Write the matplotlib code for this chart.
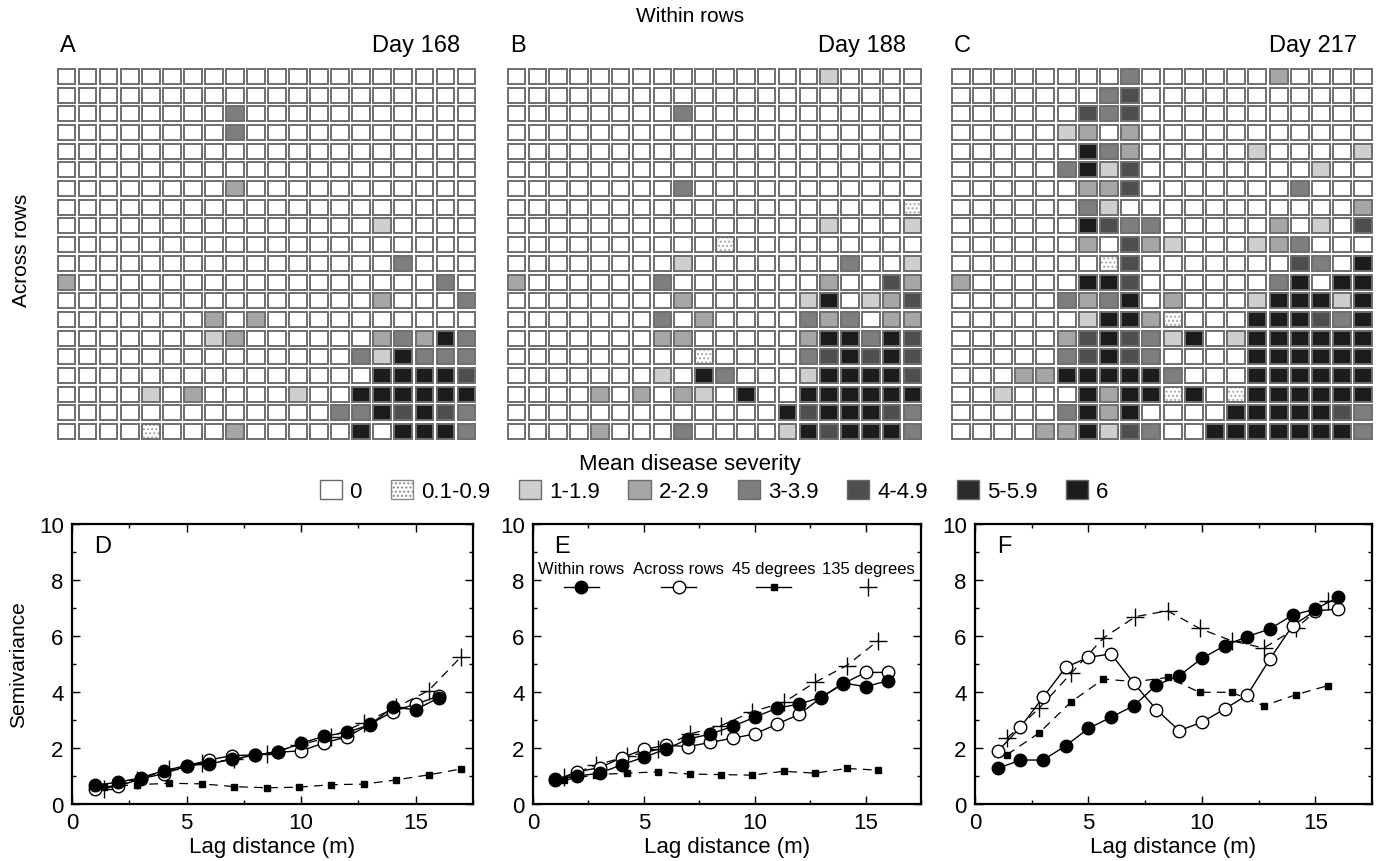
import numpy as np
import matplotlib
matplotlib.use('Agg')
import matplotlib.pyplot as plt
from matplotlib.patches import Rectangle, Patch
from matplotlib.lines import Line2D
from matplotlib.ticker import MultipleLocator

plt.rcParams['font.family'] = ['Liberation Sans', 'DejaVu Sans']

# severity class per cell: 0=0, 1=0.1-0.9, 2=1-1.9, 3=2-2.9, 4=3-3.9, 5=4-4.9, 6=5-5.9, 7=6
grid_day168 = [
    "00000000000000000000",
    "00000000000000000000",
    "00000000400000000000",
    "00000000400000000000",
    "00000000000000000000",
    "00000000000000000000",
    "00000000300000000000",
    "00000000000000000000",
    "00000000000000020000",
    "00000000000000000000",
    "00000000000000004000",
    "30000000000000000040",
    "00000000000000030004",
    "00000003030000000000",
    "00000002300000034374",
    "00000000000000427444",
    "00000000000000077775",
    "00002030000200777777",
    "00000000000004475754",
    "00001000300000707774",
]
grid_day188 = [
    "00000000000000020000",
    "00000000000000000000",
    "00000000400000000000",
    "00000000000000000000",
    "00000000000000000000",
    "00000000000000000000",
    "00000000400000000000",
    "00000000000000000001",
    "00000000000000020002",
    "00000000001000000000",
    "00000000200000004002",
    "30000004000000030053",
    "00000000300000270235",
    "00000004030000434033",
    "00000003300000377475",
    "00000000010000457575",
    "00000002074000277775",
    "00003030320700777777",
    "00000000000007577754",
    "00003000400002757774",
]
grid_day217 = [
    "00000000400000030000",
    "00000004500000000000",
    "00000054500000000000",
    "00000230300000000000",
    "00000074300000200002",
    "00000472500000000200",
    "00000033500000004000",
    "00000042000000000003",
    "00000075440000030205",
    "00000030532000234000",
    "00000001500000005407",
    "30000077500000047077",
    "00000434703000277727",
    "00000027731000777547",
    "00000357542702777777",
    "00000457540000777777",
    "00033777774000777777",
    "00200073771701777777",
    "00000473700007777754",
    "00003372540077777774",
]
grid_days = ["Day 168", "Day 188", "Day 217"]
grid_letters = ["A", "B", "C"]

class_labels = ["0", "0.1-0.9", "1-1.9", "2-2.9", "3-3.9", "4-4.9", "5-5.9", "6"]
class_colors = ["#ffffff", "#ffffff", "#cfcfcf", "#a6a6a6", "#7e7e7e",
                "#4e4e4e", "#2a2a2a", "#1c1c1c"]

# semivariograms
lag_rows = [1, 2, 3, 4, 5, 6, 7, 8, 9, 10, 11, 12, 13, 14, 15, 16]
lag_diag = [1.41, 2.83, 4.24, 5.66, 7.07, 8.49, 9.90, 11.31, 12.73, 14.14, 15.56, 16.97]

within_D = [0.68, 0.77, 0.94, 1.19, 1.37, 1.43, 1.60, 1.75, 1.87, 2.17, 2.42, 2.56, 2.83, 3.45, 3.37, 3.79]
across_D = [0.55, 0.63, 0.90, 1.08, 1.35, 1.58, 1.73, 1.75, 1.85, 1.90, 2.18, 2.40, 2.85, 3.30, 3.57, 3.85]
deg45_D = [0.62, 0.69, 0.74, 0.72, 0.62, 0.58, 0.60, 0.69, 0.71, 0.86, 1.04, 1.25]
deg135_D = [0.55, 0.85, 1.25, 1.45, 1.60, 1.80, 2.10, 2.40, 2.90, 3.45, 4.05, 5.25]

within_E = [0.90, 1.00, 1.10, 1.40, 1.67, 1.96, 2.32, 2.50, 2.77, 3.10, 3.42, 3.57, 3.81, 4.32, 4.19, 4.40]
across_E = [0.85, 1.15, 1.30, 1.65, 1.95, 2.10, 2.05, 2.20, 2.35, 2.50, 2.85, 3.20, 3.80, 4.30, 4.70, 4.70]
deg45_E = [0.85, 1.05, 1.10, 1.15, 1.07, 1.05, 1.03, 1.17, 1.10, 1.27, 1.21]
deg135_E = [0.95, 1.39, 1.70, 1.95, 2.50, 2.80, 3.30, 3.63, 4.35, 4.94, 5.83]

within_F = [1.27, 1.57, 1.57, 2.08, 2.70, 3.10, 3.51, 4.25, 4.58, 5.20, 5.65, 5.98, 6.25, 6.75, 6.96, 7.38]
across_F = [1.88, 2.74, 3.81, 4.88, 5.24, 5.36, 4.31, 3.37, 2.62, 2.92, 3.39, 3.89, 5.18, 6.37, 6.90, 6.96]
deg45_F = [1.76, 2.54, 3.65, 4.46, 4.37, 4.52, 3.99, 3.99, 3.51, 3.90, 4.23]
deg135_F = [2.35, 3.42, 4.67, 5.93, 6.69, 6.90, 6.27, 5.83, 5.57, 6.27, 7.26]

series_labels = ["Within rows", "Across rows", "45 degrees", "135 degrees"]
panel_letters = ["D", "E", "F"]

W, H = 1382, 862
fig = plt.figure(figsize=(W / 100, H / 100), dpi=100)


def fr(left, top, width, height):
    # pixel box -> figure fraction
    return [left / W, (H - top - height) / H, width / W, height / H]


def draw_grid(ax, grid):
    nrow = len(grid)
    ncol = len(grid[0])
    for r, row in enumerate(grid):
        for c, ch in enumerate(row):
            k = int(ch)
            x0, y0 = c + 0.08, r + 0.1
            if k == 1:
                ax.add_patch(Rectangle((x0, y0), 0.84, 0.8, facecolor='white',
                                       edgecolor='#a8a8a8', hatch='....', lw=0))
                ax.add_patch(Rectangle((x0, y0), 0.84, 0.8, facecolor='none',
                                       edgecolor='#6e6e6e', lw=1.4))
            else:
                ax.add_patch(Rectangle((x0, y0), 0.84, 0.8, facecolor=class_colors[k],
                                       edgecolor='#6e6e6e', lw=1.4))
    ax.set_xlim(0, ncol)
    ax.set_ylim(nrow, 0)
    ax.set_axis_off()


grid_boxes = [(56, 68, 421, 374), (506, 68, 417, 374), (950, 68, 424, 374)]
for grid, box, day, letter in zip([grid_day168, grid_day188, grid_day217],
                                  grid_boxes, grid_days, grid_letters):
    ax = fig.add_axes(fr(*box))
    draw_grid(ax, grid)
    ax.text(0.01, 1.06, letter, transform=ax.transAxes, fontsize=17, va='center', ha='left')
    ax.text(0.96, 1.06, day, transform=ax.transAxes, fontsize=17, va='center', ha='right')

fig.text(690 / W, 1 - 17 / H, "Within rows", fontsize=15, ha='center', va='center')
fig.text(22 / W, 1 - 250 / H, "Across rows", fontsize=15, ha='center', va='center',
         rotation=90)
fig.text(690 / W, 1 - 465 / H, "Mean disease severity", fontsize=16, ha='center', va='center')

handles = []
for i, col in enumerate(class_colors):
    if i == 1:
        handles.append(Patch(facecolor='white', edgecolor='#8a8a8a', hatch='....', lw=1))
    else:
        handles.append(Patch(facecolor=col, edgecolor='#6a6a6a', lw=1))
fig.legend(handles, class_labels, loc='center', bbox_to_anchor=(714 / W, 1 - 492 / H),
           ncol=8, frameon=False, fontsize=16, handlelength=1.0, handleheight=0.95,
           handletextpad=0.35, columnspacing=1.3, borderpad=0)

plot_boxes = [(72, 525, 401, 280), (533, 525, 388, 280), (975, 525, 397, 280)]
plot_data = [
    (within_D, across_D, deg45_D, deg135_D),
    (within_E, across_E, deg45_E, deg135_E),
    (within_F, across_F, deg45_F, deg135_F),
]
for i, (box, data, letter) in enumerate(zip(plot_boxes, plot_data, panel_letters)):
    within, across, d45, d135 = data
    ax = fig.add_axes(fr(*box))
    ax.plot(lag_diag[:len(d135)], d135, color='black', lw=0.9, ls=(0, (7, 5)),
            marker='+', ms=13, mew=1.0)
    ax.plot(lag_diag[:len(d45)], d45, color='black', lw=0.9, ls=(0, (7, 5)),
            marker='s', ms=4)
    ax.plot(lag_rows, across, color='black', lw=1.0, marker='o', ms=9,
            mfc='white', mec='black', mew=1.0)
    ax.plot(lag_rows, within, color='black', lw=1.0, marker='o', ms=9,
            mfc='black', mec='black')
    ax.set_xlim(0, 17.5)
    ax.set_ylim(0, 10)
    ax.xaxis.set_major_locator(MultipleLocator(5))
    ax.xaxis.set_minor_locator(MultipleLocator(2.5))
    ax.yaxis.set_major_locator(MultipleLocator(2))
    ax.yaxis.set_minor_locator(MultipleLocator(1))
    ax.tick_params(which='both', direction='in', top=True, right=True,
                   labelsize=16, width=1)
    ax.tick_params(which='major', length=6, pad=6)
    ax.tick_params(which='minor', length=3)
    for s in ax.spines.values():
        s.set_linewidth(1.6)
    ax.set_xlabel("Lag distance (m)", fontsize=16, labelpad=2)
    if i == 0:
        ax.set_ylabel("Semivariance", fontsize=15, labelpad=8)
    ax.text(0.055, 0.92, letter, transform=ax.transAxes, fontsize=17, va='center')

    if i == 1:
        styles = [
            dict(marker='o', ms=9, mfc='black', mec='black', ls='-'),
            dict(marker='o', ms=9, mfc='white', mec='black', ls='-'),
            dict(marker='s', ms=4, mfc='black', mec='black', ls='-'),
            dict(marker='+', ms=13, mew=1.0, ls='none'),
        ]
        xs = [0.124, 0.376, 0.62, 0.864]
        for lab, st, x in zip(series_labels, styles, xs):
            ax.text(x, 0.84, lab, transform=ax.transAxes, fontsize=12,
                    ha='center', va='center')
            ln = Line2D([x - 0.045, x, x + 0.045], [0.775, 0.775, 0.775],
                        transform=ax.transAxes, color='black', lw=1.0,
                        markevery=[1], **st)
            ax.add_line(ln)

fig.savefig("out.png", dpi=100)
